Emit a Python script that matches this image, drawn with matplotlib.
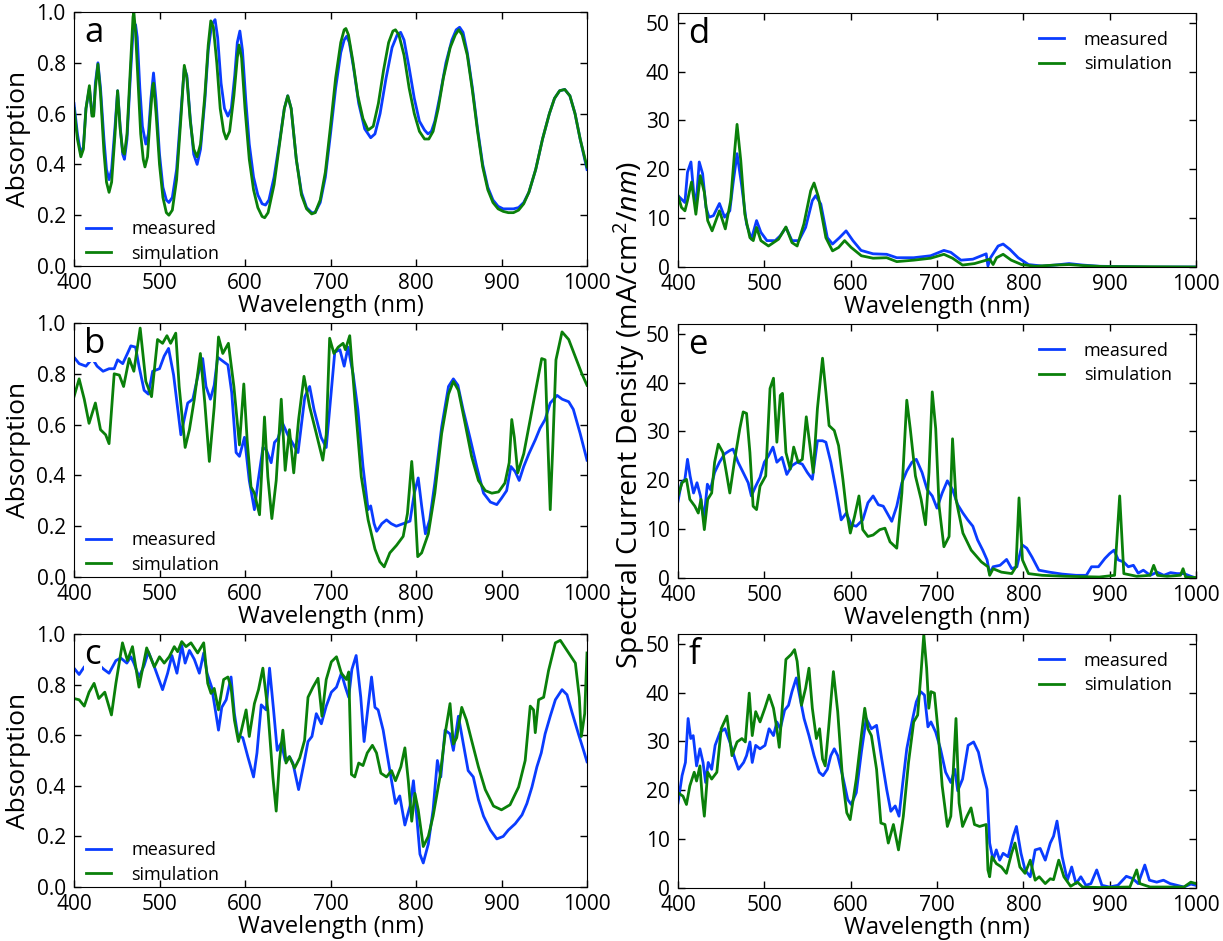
import matplotlib
matplotlib.use("Agg")
import matplotlib.pyplot as plt

plt.rcParams["font.family"] = ["Open Sans", "DejaVu Sans"]
plt.rcParams["mathtext.fontset"] = "custom"
plt.rcParams["mathtext.rm"] = "Open Sans"
plt.rcParams["mathtext.it"] = "Open Sans:italic"

# ---- panel a: absorption ----
a_meas_wl = [400, 404, 408, 411, 414, 418, 421, 423, 425, 428, 431, 435, 438, 441, 444, 448, 451, 454, 457, 459,
             462, 466, 469, 472, 474, 477, 480, 484, 487, 490, 493, 496, 500, 504, 508, 511, 515, 520, 525, 529,
             532, 536, 540, 544, 548, 553, 557, 561, 565, 568, 572, 576, 580, 584, 588, 591, 594, 597, 601, 605,
             610, 615, 620, 624, 628, 634, 640, 646, 650, 654, 660, 666, 672, 678, 682, 688, 694, 700, 706, 712,
             716, 719, 722, 727, 733, 740, 747, 752, 758, 765, 772, 778, 782, 786, 792, 798, 804, 810, 814, 818,
             822, 828, 835, 842, 847, 851, 855, 860, 866, 872, 878, 884, 890, 896, 902, 908, 914, 920, 926, 932,
             940, 948, 956, 962, 968, 974, 980, 986, 992, 1000]
a_meas = [0.64, 0.52, 0.44, 0.47, 0.62, 0.70, 0.60, 0.60, 0.72, 0.80, 0.70, 0.50, 0.38, 0.34, 0.38, 0.55, 0.69, 0.55, 0.44, 0.42,
          0.50, 0.75, 0.92, 0.95, 0.90, 0.70, 0.55, 0.48, 0.52, 0.66, 0.76, 0.65, 0.44, 0.31, 0.26, 0.25, 0.27, 0.38, 0.60, 0.78,
          0.75, 0.58, 0.44, 0.40, 0.46, 0.65, 0.85, 0.95, 0.97, 0.90, 0.72, 0.62, 0.59, 0.62, 0.75, 0.88, 0.925, 0.85, 0.65, 0.48,
          0.35, 0.28, 0.245, 0.24, 0.26, 0.35, 0.48, 0.62, 0.67, 0.62, 0.42, 0.29, 0.23, 0.21, 0.21, 0.25, 0.35, 0.52, 0.70, 0.84,
          0.89, 0.905, 0.88, 0.78, 0.64, 0.54, 0.505, 0.52, 0.60, 0.74, 0.86, 0.91, 0.92, 0.89, 0.78, 0.66, 0.57, 0.535, 0.52, 0.53,
          0.57, 0.67, 0.80, 0.89, 0.93, 0.94, 0.92, 0.84, 0.70, 0.54, 0.40, 0.31, 0.26, 0.235, 0.225, 0.225, 0.225, 0.23, 0.25, 0.29,
          0.38, 0.50, 0.60, 0.66, 0.69, 0.695, 0.67, 0.60, 0.50, 0.38]
a_sim_wl = [400, 404, 408, 411, 414, 418, 421, 423, 425, 428, 431, 435, 438, 441, 444, 448, 451, 454, 457, 459,
            462, 466, 469, 470, 472, 475, 478, 481, 483, 486, 489, 492, 493, 496, 500, 504, 508, 511, 515, 520,
            525, 529, 532, 536, 540, 544, 548, 553, 557, 560, 563, 567, 571, 575, 578, 582, 587, 591, 593, 596,
            600, 605, 610, 615, 620, 623, 627, 634, 640, 646, 650, 654, 660, 666, 672, 678, 682, 688, 694, 700,
            706, 712, 716, 718, 721, 726, 732, 738, 744, 750, 756, 762, 768, 773, 776, 780, 786, 792, 798, 804,
            810, 815, 820, 826, 832, 840, 846, 850, 854, 860, 866, 872, 878, 884, 890, 896, 902, 908, 914, 920,
            926, 932, 940, 948, 956, 962, 968, 974, 980, 986, 992, 1000]
a_sim = [0.62, 0.50, 0.43, 0.46, 0.62, 0.71, 0.59, 0.59, 0.70, 0.795, 0.68, 0.45, 0.33, 0.29, 0.33, 0.52, 0.69, 0.54, 0.45, 0.44,
         0.52, 0.78, 0.98, 1.0, 0.92, 0.72, 0.52, 0.42, 0.39, 0.43, 0.58, 0.71, 0.72, 0.60, 0.40, 0.27, 0.21, 0.20, 0.22, 0.34,
         0.58, 0.79, 0.74, 0.57, 0.46, 0.43, 0.48, 0.67, 0.87, 0.965, 0.94, 0.80, 0.62, 0.53, 0.50, 0.53, 0.67, 0.82, 0.87, 0.82,
         0.62, 0.42, 0.30, 0.23, 0.195, 0.19, 0.21, 0.32, 0.47, 0.62, 0.67, 0.62, 0.42, 0.28, 0.225, 0.205, 0.21, 0.26, 0.37, 0.55,
         0.74, 0.88, 0.93, 0.935, 0.91, 0.81, 0.67, 0.58, 0.535, 0.55, 0.64, 0.77, 0.88, 0.925, 0.93, 0.91, 0.83, 0.70, 0.60, 0.53,
         0.50, 0.50, 0.53, 0.62, 0.74, 0.86, 0.91, 0.93, 0.91, 0.83, 0.69, 0.53, 0.39, 0.30, 0.25, 0.225, 0.215, 0.21, 0.21, 0.22,
         0.245, 0.29, 0.38, 0.50, 0.60, 0.66, 0.69, 0.695, 0.67, 0.60, 0.50, 0.39]

# ---- panel b: absorption ----
b_meas_wl = [400, 406, 414, 421.5, 427, 434, 441, 447, 451, 457, 462.5, 466.5, 472, 476, 482, 487, 492, 500, 505.5, 510.6,
             516.5, 525, 533, 539, 545.4, 550.5, 554.4, 559.5, 564, 568, 574, 580, 584.5, 589.6, 593.5, 599.4, 605, 611, 615, 621,
             625, 630.6, 634.5, 638.5, 644, 650, 656, 662, 670, 675.6, 680.7, 689, 695, 701, 705, 711, 716, 720.5, 726.4, 732,
             738, 744, 747, 751, 754, 760, 765.5, 771, 777, 785, 793, 798, 802.6, 806.6, 811, 816, 822, 830, 838, 843.7,
             849, 855, 863, 871, 879, 887, 894.5, 900, 906, 911, 916, 920.7, 926, 932, 939.5, 945, 951, 957, 965, 971,
             978.6, 984, 992, 1000]
b_meas = [0.865, 0.84, 0.83, 0.86, 0.83, 0.81, 0.82, 0.82, 0.855, 0.84, 0.88, 0.91, 0.905, 0.83, 0.735, 0.72, 0.81, 0.82, 0.87, 0.90,
          0.795, 0.56, 0.685, 0.70, 0.80, 0.86, 0.75, 0.70, 0.755, 0.865, 0.85, 0.835, 0.725, 0.49, 0.475, 0.55, 0.38, 0.265, 0.37, 0.51,
          0.50, 0.45, 0.53, 0.545, 0.605, 0.56, 0.525, 0.49, 0.71, 0.75, 0.66, 0.55, 0.51, 0.735, 0.885, 0.895, 0.83, 0.905, 0.80, 0.66,
          0.435, 0.265, 0.28, 0.21, 0.18, 0.21, 0.225, 0.21, 0.20, 0.21, 0.22, 0.33, 0.39, 0.28, 0.17, 0.225, 0.37, 0.59, 0.75, 0.78,
          0.755, 0.66, 0.55, 0.435, 0.33, 0.295, 0.285, 0.31, 0.34, 0.435, 0.415, 0.38, 0.435, 0.485, 0.54, 0.585, 0.62, 0.685, 0.715, 0.70,
          0.69, 0.66, 0.565, 0.46]
b_sim_wl = [400, 406, 412, 417.6, 425, 431, 437, 441, 447, 453, 458, 464.5, 470, 477.4, 484, 490.7, 497.7, 503.6, 508.7, 513,
            519, 523, 530, 535, 540.7, 547.8, 553, 558.3, 564, 569, 574, 580.6, 587, 593.5, 598.6, 602.5, 607, 611, 617, 622.8,
            626.7, 631.4, 636.5, 642.4, 647, 652, 657, 662.7, 669, 675.6, 683.4, 691, 695, 699, 704, 709, 714.7, 717.4, 722.5, 728.4,
            736, 744, 752, 757.7, 762.8, 769.4, 777.3, 785, 790, 795, 798, 802, 806.6, 814.4, 822, 830, 838, 843.7, 849.6, 857.4,
            865, 873, 881, 888.7, 896.5, 904, 909, 912, 915, 919, 926, 933.6, 941.4, 947, 951, 954, 957, 960, 963.7, 970.8,
            978.6, 986, 994, 1000]
b_sim = [0.71, 0.78, 0.70, 0.605, 0.685, 0.58, 0.56, 0.525, 0.80, 0.795, 0.75, 0.86, 0.81, 0.98, 0.77, 0.71, 0.935, 0.92, 0.95, 0.92,
         0.96, 0.75, 0.51, 0.58, 0.70, 0.88, 0.685, 0.455, 0.67, 0.945, 0.88, 0.92, 0.75, 0.52, 0.76, 0.54, 0.355, 0.33, 0.245, 0.63,
         0.395, 0.23, 0.38, 0.70, 0.42, 0.58, 0.41, 0.62, 0.79, 0.67, 0.565, 0.46, 0.56, 0.94, 0.88, 0.905, 0.92, 0.895, 0.95, 0.70,
         0.395, 0.225, 0.11, 0.06, 0.04, 0.095, 0.125, 0.16, 0.25, 0.455, 0.33, 0.08, 0.095, 0.17, 0.33, 0.565, 0.72, 0.77, 0.735, 0.605,
         0.475, 0.38, 0.34, 0.33, 0.335, 0.37, 0.45, 0.62, 0.55, 0.41, 0.485, 0.62, 0.76, 0.86, 0.855, 0.55, 0.265, 0.515, 0.855, 0.965,
         0.935, 0.87, 0.80, 0.755]

# ---- panel c: absorption ----
c_meas_wl = [400, 406, 412, 419.5, 427, 435, 441, 449, 454.7, 461.8, 466.5, 470, 476, 482, 487, 494, 503.6, 509.5, 514.5, 520.4,
             526, 530, 535, 540.7, 546.6, 551.7, 555.6, 561, 566, 569, 572.8, 578, 583.7, 587.6, 591.5, 597.4, 603.3, 610, 614, 619,
             624.8, 628.7, 633.4, 637.7, 642.4, 647, 652, 656, 662.7, 669, 673.7, 678.3, 683.4, 689.3, 695, 701, 707, 712.7, 717.4, 721.3,
             725, 730, 735.4, 739.3, 743, 748, 752, 755.7, 761.6, 766.7, 771.4, 776, 781, 787, 793, 797, 800.7, 804.6, 808.5, 814.4,
             820, 825, 829, 834, 839.8, 843.7, 849.6, 855.4, 861, 867, 873, 879, 887, 894.5, 902, 908, 916, 924, 929.7, 935.6,
             941.4, 946.5, 951, 957, 963, 970.8, 976.6, 982.5, 990, 996, 1000]
c_meas = [0.865, 0.84, 0.87, 0.89, 0.885, 0.86, 0.845, 0.895, 0.905, 0.885, 0.91, 0.885, 0.83, 0.875, 0.93, 0.87, 0.78, 0.845, 0.915, 0.845,
          0.955, 0.885, 0.935, 0.90, 0.845, 0.925, 0.845, 0.79, 0.685, 0.62, 0.71, 0.74, 0.83, 0.685, 0.60, 0.59, 0.515, 0.435, 0.53, 0.72,
          0.70, 0.865, 0.70, 0.54, 0.57, 0.50, 0.515, 0.49, 0.385, 0.49, 0.575, 0.595, 0.685, 0.645, 0.715, 0.77, 0.79, 0.845, 0.79, 0.75,
          0.86, 0.915, 0.75, 0.575, 0.685, 0.83, 0.71, 0.70, 0.62, 0.515, 0.42, 0.33, 0.36, 0.245, 0.32, 0.42, 0.285, 0.13, 0.095, 0.17,
          0.305, 0.50, 0.435, 0.62, 0.605, 0.54, 0.675, 0.565, 0.46, 0.435, 0.345, 0.28, 0.225, 0.19, 0.20, 0.225, 0.25, 0.285, 0.33, 0.395,
          0.475, 0.53, 0.605, 0.675, 0.74, 0.78, 0.76, 0.69, 0.605, 0.54, 0.495]
c_sim_wl = [400, 406, 412, 417.6, 423.5, 429, 436, 443.8, 449, 456.7, 462.5, 468.4, 476, 485, 494, 500, 505.5, 511.4, 517.3, 521.2,
            526, 531, 536.8, 544.6, 551.7, 556.4, 560.3, 564, 569, 575, 580, 583.7, 587.6, 592.3, 595.5, 601.3, 605, 611, 615.8, 620.9,
            626.7, 632.6, 636.5, 640.4, 644.3, 648, 652, 658, 664, 669.7, 673.7, 679.5, 685.4, 690, 695, 701, 707, 712.7, 718.6, 721.3,
            724.5, 728.4, 733, 738, 743, 749, 753.8, 758.9, 765.5, 771.4, 776, 782.3, 787, 791, 795, 798.7, 802.6, 808.5, 814.4, 820,
            828, 834.7, 839.8, 843.7, 847.6, 853.5, 859, 865, 873, 881, 890.6, 900, 910, 920, 927.7, 933.6, 937.5, 939.5, 943.4, 949.3,
            955, 963, 968.8, 976.6, 986.4, 991, 993.4, 997.3, 1000]
c_sim = [0.745, 0.74, 0.715, 0.77, 0.805, 0.745, 0.77, 0.68, 0.805, 0.965, 0.895, 0.95, 0.79, 0.945, 0.87, 0.91, 0.885, 0.91, 0.95, 0.93,
         0.97, 0.95, 0.965, 0.925, 0.965, 0.805, 0.765, 0.785, 0.70, 0.82, 0.83, 0.79, 0.66, 0.575, 0.615, 0.70, 0.595, 0.725, 0.78, 0.865,
         0.70, 0.435, 0.30, 0.50, 0.62, 0.49, 0.515, 0.47, 0.51, 0.58, 0.75, 0.79, 0.825, 0.675, 0.82, 0.89, 0.91, 0.845, 0.82, 0.85,
         0.445, 0.435, 0.49, 0.48, 0.53, 0.56, 0.53, 0.45, 0.435, 0.46, 0.42, 0.475, 0.55, 0.42, 0.26, 0.37, 0.305, 0.16, 0.20, 0.28,
         0.435, 0.62, 0.725, 0.565, 0.59, 0.71, 0.66, 0.58, 0.475, 0.385, 0.32, 0.305, 0.325, 0.395, 0.50, 0.715, 0.70, 0.61, 0.74, 0.75,
         0.855, 0.965, 0.975, 0.935, 0.885, 0.75, 0.595, 0.685, 0.925]

# ---- panel d: spectral current density ----
d_meas_wl = [400, 404, 408, 411, 415, 418, 420.7, 424.6, 428.5, 432.4, 436, 441, 448, 454, 460, 463.7, 468.4, 473.5, 479.4, 485,
             491, 496, 503, 512.6, 518.5, 525, 532, 540, 547.8, 555.6, 559.5, 565.4, 573, 579, 587, 594.7, 602.6, 612, 626, 641.7,
             653.4, 673, 692.6, 708, 716, 727.7, 741.5, 757, 759, 762, 770.8, 776.6, 784.5, 794, 806, 821.7, 837, 853, 868.6, 888,
             907.7, 946.8, 1000]
d_meas = [14.6, 13.9, 13.2, 19.4, 21.5, 15.6, 12.2, 21.5, 19.1, 12.2, 10.2, 10.5, 13.0, 10.2, 11.5, 17.0, 23.2, 17.0, 8.8, 5.7,
          9.5, 7.1, 5.4, 5.4, 6.4, 8.1, 5.4, 5.4, 8.1, 13.6, 14.6, 12.9, 6.0, 4.7, 6.0, 7.4, 5.4, 3.4, 2.7, 2.6,
          1.9, 1.9, 2.3, 3.4, 3.0, 1.4, 1.6, 2.7, 0.2, 1.9, 4.3, 4.7, 3.6, 1.9, 0.5, 0.2, 0.4, 0.7, 0.4, 0.15,
          0.1, 0.0, 0.0]
d_sim_wl = [400, 404, 408, 411, 415.7, 420.7, 425.8, 430.5, 434.4, 439.5, 448, 454.8, 461, 465.7, 468.4, 472.7, 477.4, 483.3, 487.2, 491,
            496, 504.8, 516.5, 525, 532, 538, 545.8, 553.7, 557.6, 562.7, 571.3, 579, 586, 593, 600.6, 612.4, 626, 641.7, 653.4, 673,
            692.6, 708, 718, 729.6, 743.4, 761, 765, 769, 776.6, 786, 798, 813.7, 837, 853, 868.6, 892, 1000]
d_sim = [14.6, 12.2, 11.5, 13.6, 17.4, 10.8, 18.7, 15.3, 9.5, 7.4, 11.5, 7.8, 13.6, 23.9, 29.2, 21.8, 10.8, 6.0, 5.4, 8.1,
         5.4, 4.3, 5.7, 8.2, 5.0, 4.3, 8.8, 15.6, 17.2, 14.3, 6.0, 3.3, 4.0, 5.4, 4.0, 2.3, 1.8, 1.9, 1.1, 1.4,
         1.8, 2.6, 1.8, 0.4, 0.7, 1.6, 0.5, 1.9, 2.6, 1.4, 0.5, 0.15, 0.4, 0.5, 0.3, 0.1, 0.0]

# ---- panel e: spectral current density ----
e_meas_wl = [400, 404, 408, 411, 414, 418, 422, 426, 430, 434, 437.5, 442.4, 448, 454, 460, 463.7, 469.6, 475.5, 481.3, 485,
             490, 495, 500, 504.8, 510, 514.5, 520.4, 526, 532, 538, 544, 549.8, 555.6, 561.5, 567.4, 571.3, 577, 583, 589, 595,
             600.6, 606.5, 614, 620, 626, 632, 637.8, 647.6, 653.4, 659.3, 665, 671, 676, 682.7, 688.6, 694.5, 700, 706, 712, 718,
             724, 730, 735.6, 741.5, 747, 753, 758, 761, 765, 773, 780.6, 786.6, 792.5, 798.5, 804, 810, 818, 830, 845, 861,
             873, 879, 887, 894.5, 900, 905, 910, 916, 921.6, 927.5, 933, 939, 947, 955, 962.7, 970.5, 978, 986, 994, 1000]
e_meas = [15.7, 19.5, 20.2, 24.3, 20.9, 17.4, 19.5, 16.8, 11.9, 19.2, 18.1, 21.6, 23.7, 25.4, 26.1, 26.4, 23.7, 21.6, 19.5, 16.8,
          18.8, 20.6, 23.7, 25.0, 26.8, 23.7, 24.7, 21.2, 23.0, 23.7, 23.3, 21.6, 20.2, 28.1, 28.1, 27.8, 23.7, 18.1, 11.9, 13.3,
          10.9, 10.6, 11.9, 15.4, 16.8, 15.0, 14.7, 11.6, 14.7, 19.5, 21.9, 23.7, 24.3, 21.6, 18.1, 16.8, 14.3, 17.4, 19.9, 18.1,
          15.0, 13.3, 11.9, 10.6, 7.8, 5.7, 3.7, 0.9, 2.3, 2.6, 3.8, 1.9, 2.3, 6.8, 6.1, 4.3, 1.6, 1.2, 0.8, 0.55,
          0.55, 2.3, 2.3, 4.0, 5.0, 5.7, 3.7, 3.3, 2.3, 2.6, 1.0, 1.6, 0.55, 1.2, 0.55, 1.1, 0.9, 0.9, 0.35, 0.0]
e_sim_wl = [400, 404.7, 409.8, 413.7, 419.5, 423.5, 426.6, 430.5, 434.4, 439, 442.4, 446.7, 452, 456, 460, 465.7, 471.6, 475.5, 479.4, 483.3,
            487, 491, 495, 501.6, 506.6, 510.6, 514.5, 518.5, 521, 525, 530, 534, 539.2, 544, 548.6, 552.6, 556.6, 561.5, 567.4, 571.3,
            575, 581, 586, 591, 595, 599.6, 604.5, 609.6, 614, 620, 626, 633.8, 639.7, 645.6, 653.4, 659.3, 665, 669, 675, 681.6,
            686.7, 690.7, 694.5, 698.5, 702.4, 708, 714, 718, 722, 730, 739.6, 751.4, 759, 761, 765, 774.6, 786.6, 791.5, 795, 799,
            806, 821.7, 849, 888, 905.7, 911.6, 916.4, 931.3, 946.8, 951, 955.4, 966.4, 982, 985, 988, 1000]
e_sim = [16.8, 19.5, 20.2, 16.1, 14.7, 13.3, 16.1, 9.9, 16.1, 17.4, 23.7, 27.4, 25.7, 21.6, 17.4, 24.3, 30.6, 34.0, 33.7, 25.7,
         14.7, 14.0, 18.8, 20.9, 38.8, 40.9, 27.8, 37.4, 37.8, 25.7, 22.3, 26.8, 23.7, 24.3, 33.0, 27.4, 21.6, 34.7, 45.0, 38.1,
         31.2, 30.2, 27.1, 20.2, 14.0, 9.2, 12.6, 16.8, 9.9, 8.5, 8.8, 9.9, 10.2, 7.4, 6.1, 17.4, 36.4, 30.6, 20.9, 16.1,
         10.9, 21.6, 38.1, 30.6, 14.7, 6.4, 8.5, 28.5, 16.1, 9.2, 5.7, 3.3, 2.3, 0.55, 1.9, 1.2, 0.9, 2.3, 16.4, 3.7,
         0.9, 0.55, 0.35, 0.2, 0.55, 16.8, 0.9, 0.35, 0.55, 2.6, 0.55, 0.35, 0.55, 1.9, 0.2, 0.1]

# ---- panel f: spectral current density ----
f_meas_wl = [400, 404.7, 408.6, 411.7, 414.8, 417.6, 421.5, 425.4, 429, 432, 435, 439, 443, 448.7, 454.5, 460, 466, 470, 476, 479.4,
             483.3, 486, 490, 495, 500.8, 505.5, 510.6, 514.5, 518.5, 523.5, 528, 532, 537, 540.7, 546, 551.7, 557.6, 563.5, 568, 573,
             577, 581, 585, 590.6, 596.6, 600.6, 606.5, 612.4, 618, 624, 630, 636, 641.7, 646.5, 651.6, 656, 660.4, 665, 671, 676,
             681, 685.5, 689.5, 693, 698.5, 704, 710, 716, 720.6, 724, 729.6, 736, 742.4, 748, 753, 758, 761, 765, 768.7, 772.6,
             776.6, 782.4, 788.3, 792, 797.3, 802, 808, 813.7, 819.5, 825.4, 831.2, 835, 839, 845, 851, 856, 861, 866.6, 872.5, 878.3,
             885, 891, 899.7, 909.5, 919.3, 927, 933, 940.7, 946, 954.5, 962.3, 970, 978, 986, 994, 1000]
f_meas = [17.4, 23.0, 25.7, 34.7, 30.6, 31.2, 25.0, 28.5, 25.7, 21.6, 25.7, 24.3, 29.2, 31.9, 32.6, 29.9, 26.4, 24.3, 25.7, 27.1,
          29.9, 25.7, 29.2, 28.5, 29.2, 32.6, 31.2, 34.0, 32.6, 36.4, 37.4, 40.2, 43.0, 39.5, 34.7, 31.2, 27.1, 23.7, 23.0, 24.3,
          27.1, 28.5, 27.1, 23.0, 18.1, 17.1, 19.5, 27.8, 34.7, 32.6, 33.3, 26.4, 20.2, 15.7, 16.8, 14.7, 21.6, 28.5, 34.0, 38.1,
          40.2, 39.5, 33.0, 34.0, 31.9, 28.5, 23.7, 21.6, 24.3, 19.9, 22.3, 29.2, 29.9, 27.8, 23.7, 20.2, 9.2, 5.7, 7.8, 5.7,
          7.1, 6.4, 10.6, 12.6, 7.1, 3.7, 2.3, 7.8, 8.1, 5.7, 9.2, 10.6, 13.7, 6.4, 1.6, 4.3, 0.9, 2.3, 0.55, 0.9,
          3.7, 0.55, 0.2, 0.55, 2.4, 1.9, 0.9, 4.7, 1.6, 1.2, 1.6, 0.9, 0.55, 0.2, 0.8, 0.55]
f_sim_wl = [400, 405.8, 409.8, 413.7, 418.8, 421.5, 425.4, 428, 430.5, 434.4, 439, 445, 450, 456.7, 462.5, 468.4, 474, 478, 482.5, 486,
            490, 495, 500.8, 505.5, 510.6, 514.5, 517.3, 521, 525, 531, 535, 538, 543, 547.8, 551.7, 555.6, 560.3, 564, 567.4, 570.5,
            574.4, 580, 585, 590.6, 595.5, 599.4, 606.5, 612.4, 616.3, 620, 624, 630, 635, 639.7, 643.6, 649.5, 655.4, 661, 667, 673,
            677.6, 681.6, 684.7, 688, 690.5, 693, 697, 701, 706, 712, 716, 720, 722, 725.6, 729.6, 734.7, 739.4, 743.4, 749.3, 757,
            759, 761, 763.6, 768.7, 774.6, 780.4, 786.4, 790.3, 796, 802, 808, 813.7, 818.4, 825.4, 831.2, 835, 841, 847, 854.8, 862.6,
            868.6, 888, 923.4, 931.3, 935, 946.8, 970, 986, 994, 1000]
f_sim = [19.5, 18.8, 17.1, 20.9, 23.7, 21.9, 25.0, 18.8, 14.7, 23.7, 22.3, 23.7, 32.6, 35.2, 27.1, 29.9, 30.6, 29.9, 39.9, 31.2,
         36.1, 34.0, 36.9, 39.5, 36.8, 32.6, 28.8, 37.4, 46.8, 47.8, 48.8, 46.4, 37.4, 40.9, 45.0, 36.8, 30.6, 32.6, 26.4, 25.0,
         32.6, 44.3, 36.1, 22.3, 15.4, 14.0, 22.3, 31.2, 36.8, 32.6, 31.2, 24.3, 13.3, 13.0, 9.2, 13.0, 7.8, 14.7, 25.7, 34.0,
         35.4, 44.3, 51.9, 45.0, 36.8, 40.2, 39.9, 32.6, 20.9, 12.6, 14.7, 27.8, 34.7, 17.4, 12.6, 14.7, 16.4, 13.0, 12.6, 13.0,
         3.7, 2.3, 6.4, 5.0, 4.3, 3.0, 7.1, 9.2, 4.3, 3.0, 5.7, 1.6, 2.3, 0.9, 1.9, 1.7, 5.7, 2.3, 0.35, 1.2,
         0.2, 0.1, 0.2, 3.7, 0.9, 0.2, 0.2, 0.2, 1.2, 0.9]

abs_ticks = [0.0, 0.2, 0.4, 0.6, 0.8, 1.0]
jsc_ticks = [0, 10, 20, 30, 40, 50]
wl_ticks = [400, 500, 600, 700, 800, 900, 1000]

W, H = 1223, 941
fig = plt.figure(figsize=(W / 100, H / 100), dpi=100)


def add_panel(left, top, right, bottom):
    return fig.add_axes([left / W, 1 - bottom / H, (right - left) / W, (bottom - top) / H])


def style(ax, letter, ylim, yticks, fmt, legend_loc):
    ax.set_xlim(400, 1000)
    ax.set_ylim(*ylim)
    ax.set_xticks(wl_ticks)
    ax.set_yticks(yticks)
    ax.set_yticklabels([fmt.format(v) for v in yticks])
    ax.tick_params(direction="in", top=True, right=True, length=5, width=1, labelsize=15)
    ax.tick_params(axis="x", pad=5)
    ax.tick_params(axis="y", pad=6)
    ax.set_xlabel("Wavelength (nm)", fontsize=17, labelpad=0)
    ax.text(0.02, 0.985, letter, transform=ax.transAxes, fontsize=25, va="top", ha="left",
            bbox=dict(facecolor="white", edgecolor="none", pad=0.5))
    if legend_loc == "lower left":
        ax.legend(loc="lower left", bbox_to_anchor=(0.006, -0.022), frameon=False, fontsize=13,
                  handlelength=1.4, handletextpad=1.1, labelspacing=0.35, borderaxespad=0.2, borderpad=0.3)
    else:
        ax.legend(loc="upper right", bbox_to_anchor=(0.985, 0.995), frameon=False, fontsize=13,
                  handlelength=1.4, handletextpad=1.1, labelspacing=0.35, borderaxespad=0.3, borderpad=0.6)


left_panels = [
    ((74, 12, 587, 266), "a", a_meas_wl, a_meas, a_sim_wl, a_sim),
    ((74, 323, 587, 577), "b", b_meas_wl, b_meas, b_sim_wl, b_sim),
    ((74, 634, 587, 887), "c", c_meas_wl, c_meas, c_sim_wl, c_sim),
]
for box, letter, mx, my, sx, sy in left_panels:
    ax = add_panel(*box)
    ax.plot(mx, my, color="#0a3cff", lw=2, label="measured")
    ax.plot(sx, sy, color="#0a800a", lw=2, label="simulation")
    style(ax, letter, (0, 1.0), abs_ticks, "{:.1f}", "lower left")
    ax.set_ylabel("Absorption", fontsize=19, labelpad=4)

right_panels = [
    ((678, 13, 1196, 267), "d", d_meas_wl, d_meas, d_sim_wl, d_sim),
    ((678, 324, 1196, 578), "e", e_meas_wl, e_meas, e_sim_wl, e_sim),
    ((678, 634, 1196, 888), "f", f_meas_wl, f_meas, f_sim_wl, f_sim),
]
for box, letter, mx, my, sx, sy in right_panels:
    ax = add_panel(*box)
    ax.plot(mx, my, color="#0a3cff", lw=2, label="measured")
    ax.plot(sx, sy, color="#0a800a", lw=2, label="simulation")
    style(ax, letter, (0, 52), jsc_ticks, "{:d}", "upper right")

fig.text(629 / W, 1 - 415 / H, "Spectral Current Density (mA/cm$^2$/$nm$)", rotation=90,
         fontsize=20.5, ha="center", va="center")

fig.savefig("out.png", dpi=100)
plt.close(fig)
